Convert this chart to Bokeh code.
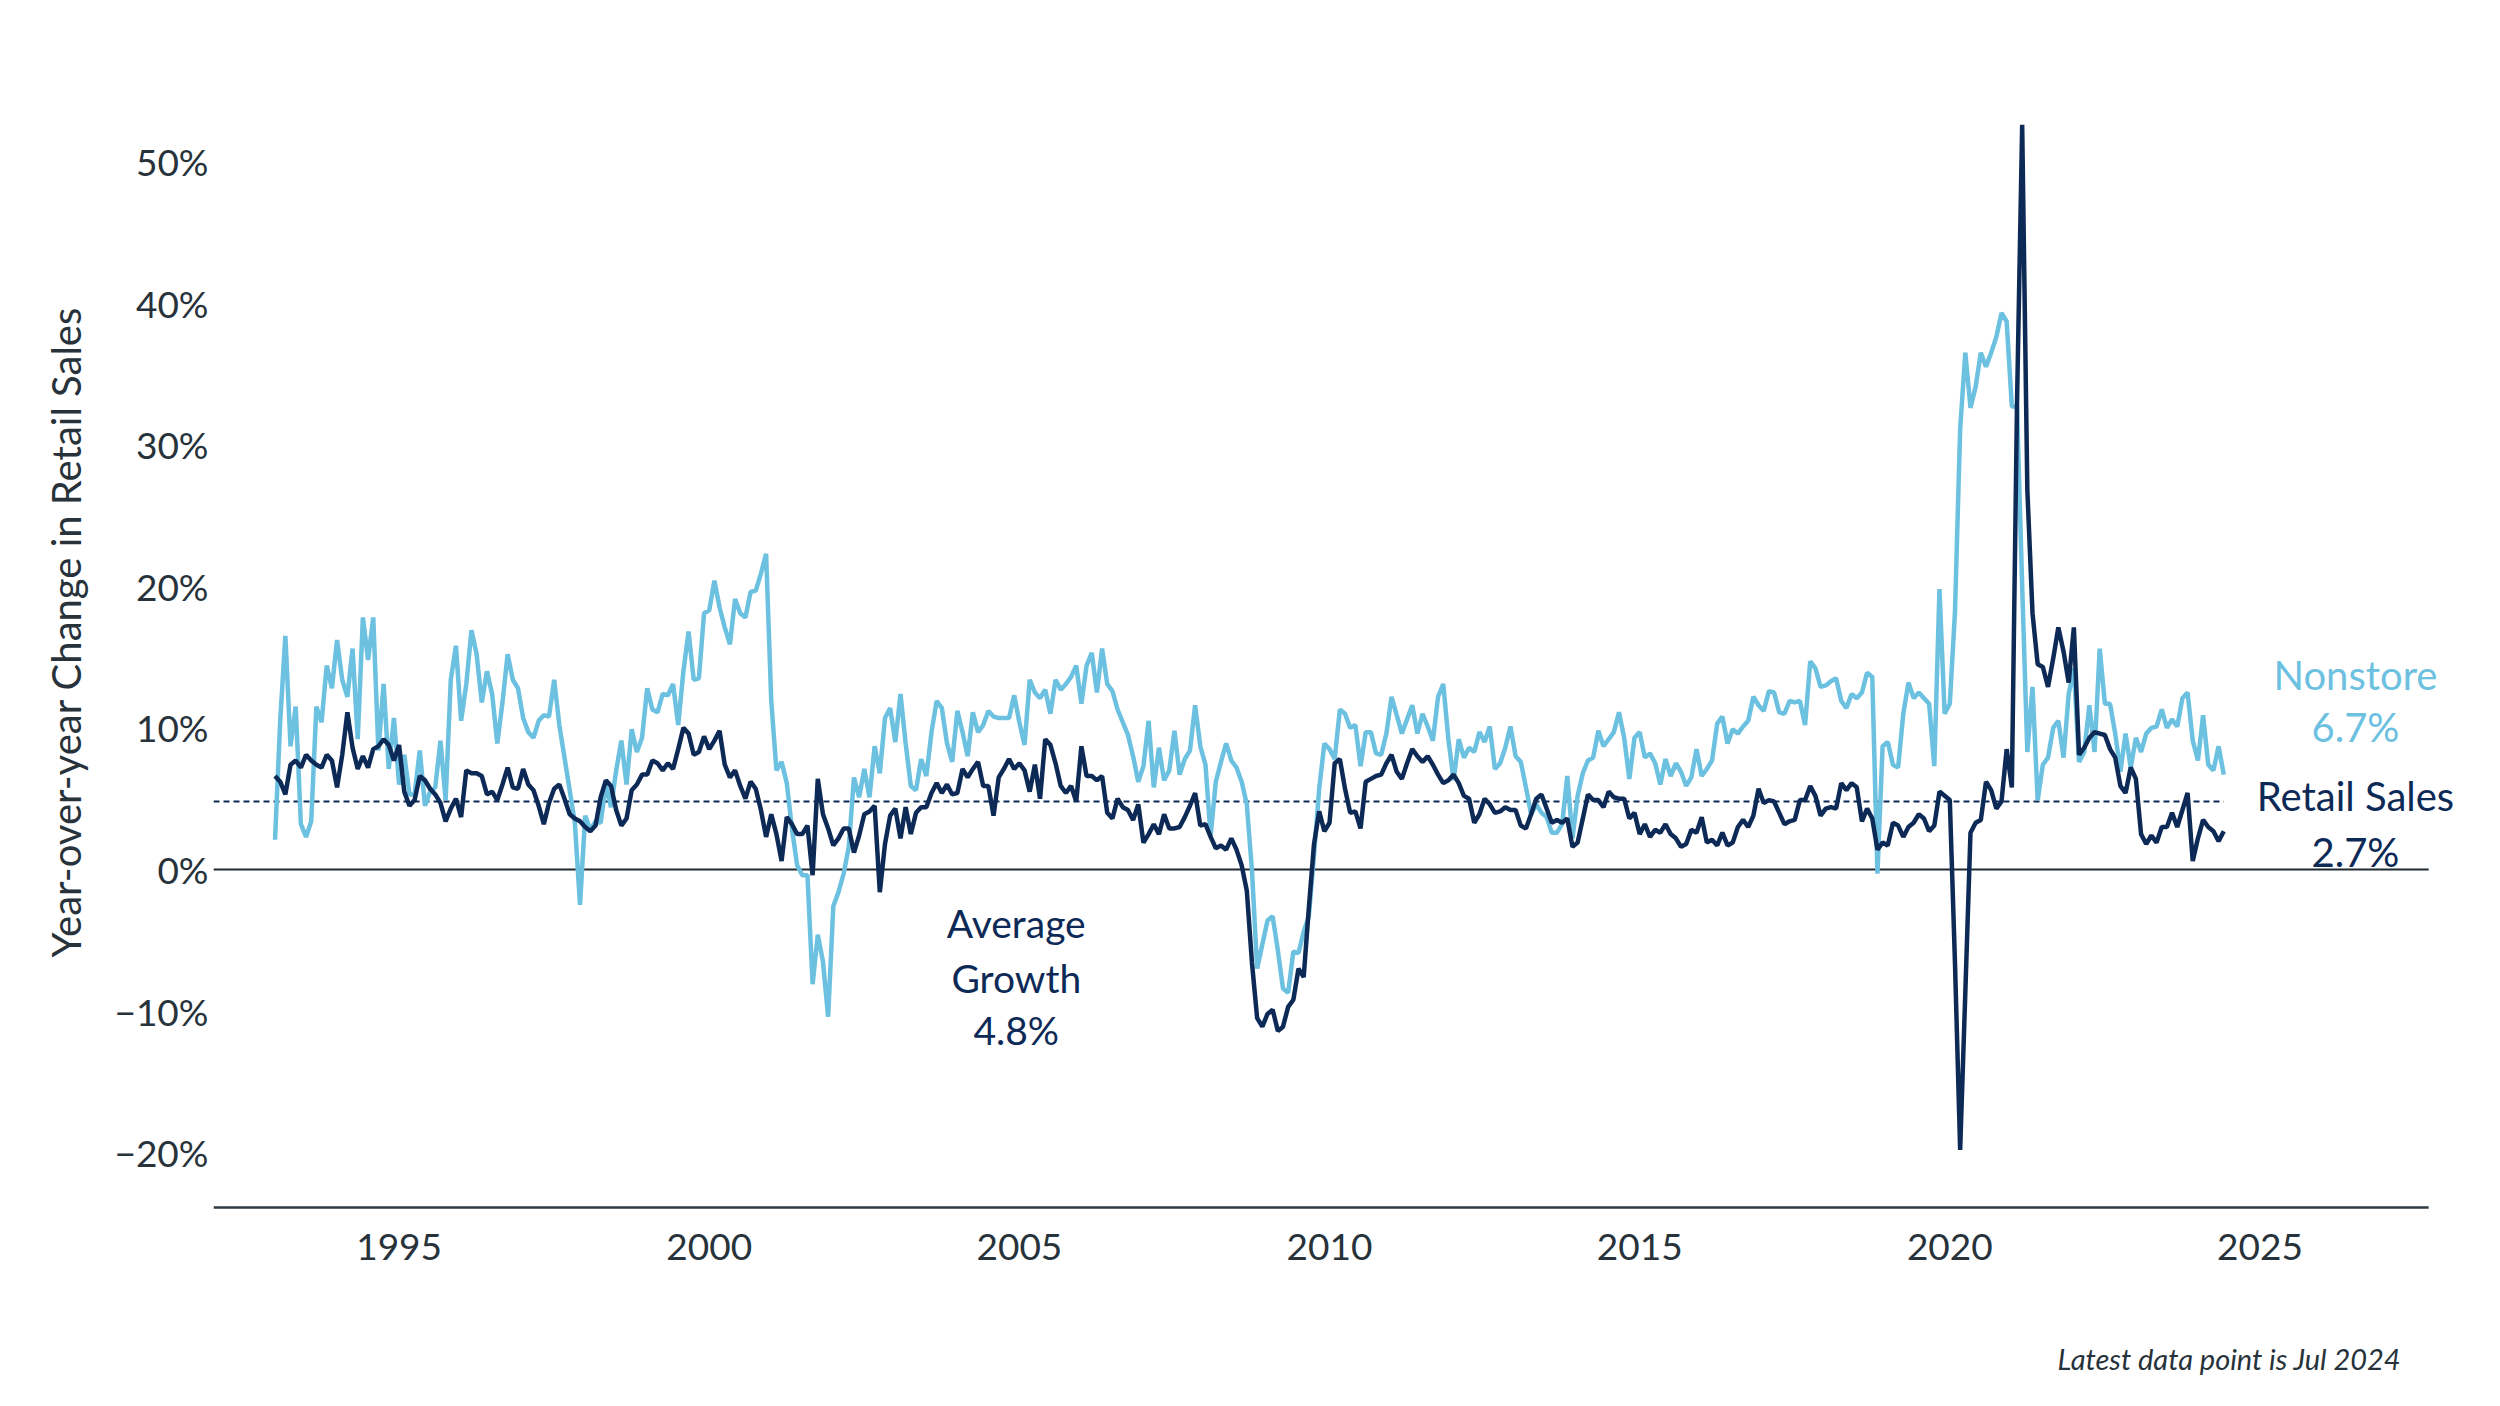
from bokeh.plotting import figure
from bokeh.models import Label, FixedTicker, ColumnDataSource, Title
from bokeh.embed import file_html
from bokeh.resources import INLINE

# ---------------- data (monthly year-over-year change, %) ----------------
start_year = 1993
nonstore = [
    2.1, 10.5, 16.5, 8.7, 11.5, 3.2, 2.3, 3.4, 11.5, 10.4, 14.4, 12.8,
    16.2, 13.4, 12.2, 15.6, 9.2, 17.8, 14.8, 17.8, 8.4, 13.1, 7.1, 10.7,
    6.0, 8.1, 5.3, 5.3, 8.4, 4.5, 5.5, 5.8, 9.1, 4.9, 13.4, 15.8,
    10.5, 13.1, 16.9, 15.2, 11.8, 14.0, 12.4, 8.9, 11.8, 15.2, 13.4, 12.8,
    10.7, 9.7, 9.3, 10.5, 10.9, 10.8, 13.4, 10.2, 7.9, 5.6, 3.3, -2.5,
    3.8, 2.8, 3.4, 3.3, 6.0, 4.4, 7.0, 9.1, 6.0, 9.9, 8.3, 9.3,
    12.8, 11.3, 11.1, 12.4, 12.3, 13.1, 10.2, 14.0, 16.8, 13.4, 13.5, 18.1,
    18.3, 20.4, 18.5, 17.1, 15.9, 19.1, 18.1, 17.8, 19.6, 19.7, 20.9, 22.3,
    11.9, 7.0, 7.6, 6.1, 2.9, 0.3, -0.4, -0.4, -8.1, -4.6, -6.5, -10.4,
    -2.6, -1.6, -0.3, 1.6, 6.5, 5.1, 7.1, 5.1, 8.7, 6.8, 10.7, 11.4,
    9.0, 12.4, 8.9, 5.9, 5.6, 7.8, 6.6, 9.7, 11.9, 11.4, 8.9, 7.6,
    11.2, 9.7, 8.0, 11.1, 9.7, 10.2, 11.2, 10.8, 10.7, 10.7, 10.7, 12.3,
    10.4, 8.8, 13.4, 12.5, 12.1, 12.7, 11.0, 13.4, 12.7, 13.1, 13.6, 14.4,
    11.7, 14.4, 15.3, 12.5, 15.6, 13.1, 12.6, 11.3, 10.4, 9.5, 8.0, 6.2,
    7.3, 10.5, 5.8, 8.6, 6.3, 7.0, 9.8, 6.7, 7.8, 8.4, 11.6, 8.7,
    7.4, 2.4, 6.2, 7.6, 8.9, 7.7, 7.2, 6.2, 4.6, -0.1, -7.0, -5.3,
    -3.6, -3.3, -5.7, -8.4, -8.7, -5.8, -5.9, -4.4, -3.3, 1.0, 5.7, 8.9,
    8.5, 7.8, 11.3, 11.0, 10.0, 10.2, 7.3, 9.7, 9.7, 8.2, 8.1, 9.6,
    12.2, 10.9, 9.6, 10.6, 11.6, 9.6, 11.0, 10.1, 9.1, 12.2, 13.1, 9.2,
    6.3, 9.2, 7.9, 8.6, 8.3, 9.7, 9.0, 10.1, 7.1, 7.5, 8.6, 10.1,
    8.0, 7.6, 5.8, 3.9, 4.6, 4.0, 3.7, 2.6, 2.6, 3.2, 6.6, 2.2,
    5.2, 6.8, 7.7, 7.9, 9.8, 8.7, 9.2, 9.7, 11.1, 9.3, 6.4, 9.3,
    9.7, 7.9, 8.2, 7.5, 6.0, 7.8, 6.6, 7.5, 6.9, 5.9, 6.5, 8.5,
    6.6, 7.1, 7.7, 10.3, 10.8, 8.9, 9.9, 9.6, 10.1, 10.5, 12.2, 11.6,
    11.2, 12.6, 12.5, 11.1, 11.0, 11.9, 11.8, 11.9, 10.2, 14.7, 14.2, 12.9,
    13.0, 13.3, 13.5, 11.9, 11.4, 12.4, 12.1, 12.5, 13.9, 13.6, -0.3, 8.7,
    9.0, 7.4, 7.2, 11.0, 13.2, 12.1, 12.5, 12.1, 11.7, 7.3, 19.8, 11.0,
    11.7, 18.2, 31.1, 36.5, 32.6, 34.1, 36.5, 35.5, 36.5, 37.6, 39.3, 38.7,
    32.7, 32.7, 20.0, 8.3, 12.9, 4.9, 7.4, 7.9, 10.0, 10.5, 7.9, 12.4,
    14.2, 7.6, 8.3, 11.6, 8.3, 15.6, 11.7, 11.7, 9.6, 6.9, 9.6, 7.2,
    9.3, 8.3, 9.6, 10.0, 10.1, 11.3, 10.0, 10.6, 10.1, 12.1, 12.5, 9.1,
    7.7, 10.9, 7.4, 7.0, 8.7, 6.7,
]
retail = [
    6.6, 6.2, 5.3, 7.4, 7.7, 7.2, 8.1, 7.7, 7.4, 7.2, 8.1, 7.7,
    5.8, 8.1, 11.1, 8.6, 7.1, 8.0, 7.2, 8.5, 8.7, 9.2, 8.8, 7.7,
    8.8, 5.5, 4.5, 4.9, 6.6, 6.3, 5.7, 5.3, 4.7, 3.4, 4.3, 5.0,
    3.7, 7.0, 6.8, 6.8, 6.6, 5.3, 5.5, 4.9, 6.0, 7.2, 5.8, 5.7,
    7.1, 6.0, 5.6, 4.5, 3.2, 4.7, 5.7, 6.0, 5.0, 3.9, 3.6, 3.4,
    3.0, 2.7, 3.1, 5.1, 6.3, 5.9, 4.2, 3.1, 3.6, 5.6, 6.0, 6.7,
    6.7, 7.7, 7.5, 7.0, 7.5, 7.1, 8.5, 10.0, 9.6, 8.1, 8.3, 9.4,
    8.5, 9.1, 9.8, 7.4, 6.5, 7.0, 5.9, 5.0, 6.2, 5.7, 4.2, 2.3,
    3.9, 2.5, 0.6, 3.7, 3.2, 2.5, 2.5, 3.1, -0.4, 6.4, 3.9, 2.9,
    1.7, 2.2, 2.9, 2.9, 1.2, 2.4, 3.9, 4.1, 4.5, -1.6, 1.8, 3.8,
    4.3, 2.2, 4.4, 2.5, 4.0, 4.4, 4.4, 5.4, 6.1, 5.4, 6.0, 5.3,
    5.4, 7.1, 6.5, 7.1, 7.6, 5.9, 5.9, 3.8, 6.5, 7.1, 7.8, 7.1,
    7.5, 7.0, 5.5, 7.4, 5.0, 9.2, 8.8, 7.5, 5.9, 5.4, 5.9, 4.8,
    8.7, 6.6, 6.6, 6.3, 6.6, 4.0, 3.6, 5.0, 4.4, 4.2, 3.5, 4.6,
    1.9, 2.5, 3.2, 2.5, 3.9, 2.9, 2.9, 3.0, 3.7, 4.5, 5.4, 3.1,
    3.2, 2.3, 1.5, 1.7, 1.4, 2.2, 1.4, 0.3, -1.5, -6.6, -10.5, -11.1,
    -10.2, -9.9, -11.4, -11.1, -9.7, -9.2, -7.0, -7.6, -2.7, 1.8, 4.1, 2.7,
    3.3, 7.5, 7.8, 5.7, 4.0, 4.1, 2.9, 6.2, 6.4, 6.6, 6.7, 7.5,
    8.1, 6.9, 6.4, 7.5, 8.5, 8.0, 7.6, 8.0, 7.4, 6.7, 6.1, 6.3,
    6.7, 6.1, 5.2, 5.0, 3.3, 3.9, 5.0, 4.6, 4.0, 4.1, 4.4, 4.2,
    4.2, 3.1, 2.9, 3.9, 5.0, 5.3, 4.3, 3.3, 3.5, 3.3, 3.6, 1.6,
    1.9, 3.6, 5.3, 4.9, 4.9, 4.4, 5.5, 5.1, 5.0, 5.0, 3.6, 4.0,
    2.5, 3.2, 2.3, 2.8, 2.6, 3.2, 2.5, 2.2, 1.6, 1.8, 2.8, 2.6,
    3.7, 1.9, 2.1, 1.7, 2.6, 1.7, 1.9, 3.0, 3.5, 3.0, 3.8, 5.7,
    4.7, 4.9, 4.8, 4.0, 3.2, 3.4, 3.5, 4.9, 4.9, 5.9, 5.2, 3.8,
    4.3, 4.4, 4.3, 6.1, 5.6, 6.1, 5.8, 3.4, 4.3, 3.6, 1.4, 1.9,
    1.7, 3.3, 3.1, 2.3, 3.0, 3.3, 3.9, 3.6, 2.7, 3.1, 5.5, 5.2,
    4.9, -6.6, -19.8, -8.7, 2.6, 3.3, 3.5, 6.2, 5.6, 4.3, 4.8, 8.5,
    5.8, 32.9, 52.6, 26.8, 18.1, 14.5, 14.3, 12.9, 14.9, 17.1, 15.4, 13.2,
    17.1, 8.1, 8.6, 9.3, 9.7, 9.6, 9.5, 8.5, 7.9, 5.9, 5.4, 7.2,
    6.4, 2.5, 1.8, 2.4, 1.9, 3.0, 3.0, 4.0, 3.0, 4.2, 5.4, 0.6,
    2.2, 3.5, 3.0, 2.7, 2.0, 2.7,
]
average_growth = 4.8
nonstore_latest = "6.7%"
retail_latest = "2.7%"
x_ticks = [1995, 2000, 2005, 2010, 2015, 2020, 2025]
y_ticks = [-20, -10, 0, 10, 20, 30, 40, 50]
y_tick_labels = ["\u221220%", "\u221210%", "0%", "10%", "20%", "30%", "40%", "50%"]
axis_title = "Year-over-year Change in Retail Sales"
footnote = "Latest data point is Jul 2024"

# ---------------- styling / layout ----------------
FONT = "Lato"
NAVY = "#0d2a57"
LIGHT = "#6cc0e0"
TEXT = "#27323a"

X0, X1 = 1992.008, 2028.749      # frame spans the canvas to the right edge
Y0, Y1 = -37.36, 61.37           # frame spans the whole canvas height
AXIS_END = 2027.72               # where the baseline / zero line stop
AXIS_Y = -23.87                  # position of the bottom axis line
XLAB_Y = -26.67                  # centre of the year labels

years = [start_year + i / 12 for i in range(len(retail))]
src = ColumnDataSource(dict(x=years, nonstore=nonstore, retail=retail))

p = figure(width=2492, height=1398, output_backend="svg", toolbar_location=None,
           x_range=(X0, X1), y_range=(Y0, Y1), x_axis_location=None,
           min_border_left=213, min_border_right=0, min_border_top=0, min_border_bottom=0)
p.outline_line_color = None
p.xgrid.visible = False
p.ygrid.visible = False
p.background_fill_color = "white"
p.border_fill_color = "white"

# y axis
p.yaxis.ticker = FixedTicker(ticks=y_ticks)
p.yaxis.major_label_overrides = {float(t): s for t, s in zip(y_ticks, y_tick_labels)}
p.yaxis.axis_line_color = None
p.yaxis.major_tick_line_color = None
p.yaxis.minor_tick_line_color = None
p.yaxis.major_tick_out = 0
p.yaxis.major_label_standoff = 5
p.yaxis.major_label_text_font = FONT
p.yaxis.major_label_text_font_size = "37px"
p.yaxis.major_label_text_color = TEXT

# vertical axis title, placed beside the tick labels
p.add_layout(Title(text=axis_title, align="left", offset=441, standoff=44,
                   text_font=FONT, text_font_size="40px", text_font_style="normal",
                   text_color=TEXT), "left")

# bottom axis line, zero line, average line
p.segment(x0=[X0], x1=[AXIS_END], y0=[AXIS_Y], y1=[AXIS_Y], line_color="#2e3a42", line_width=2.5)
p.segment(x0=[X0], x1=[AXIS_END], y0=[0], y1=[0], line_color="#1e2a33", line_width=2)
p.segment(x0=[X0], x1=[years[-1]], y0=[average_growth], y1=[average_growth],
          line_color=NAVY, line_width=2, line_dash="6 4")

# year labels
for t in x_ticks:
    p.add_layout(Label(x=t, y=XLAB_Y, text=str(t), text_align="center", text_baseline="middle",
                       text_font=FONT, text_font_size="37px", text_color=TEXT))

# series
p.line("x", "nonstore", source=src, line_color=LIGHT, line_width=4.5)
p.line("x", "retail", source=src, line_color=NAVY, line_width=4.5)

# annotations
lab_x = 2026.54
for txt, yy, col in [("Nonstore", 13.77, LIGHT), (nonstore_latest, 10.03, LIGHT),
                     ("Retail Sales", 5.16, NAVY), (retail_latest, 1.27, NAVY)]:
    p.add_layout(Label(x=lab_x, y=yy, text=txt, text_align="center", text_baseline="middle",
                       text_font=FONT, text_font_size="40px", text_color=col))

avg_x = 2004.95
for txt, yy in [("Average", -3.81), ("Growth", -7.63), (f"{average_growth}%", -11.37)]:
    p.add_layout(Label(x=avg_x, y=yy, text=txt, text_align="center", text_baseline="middle",
                       text_font=FONT, text_font_size="39px", text_color=NAVY))

p.add_layout(Label(x=2027.28, y=-34.5, text=footnote, text_align="right", text_baseline="middle",
                   text_font=FONT, text_font_size="29px", text_font_style="italic",
                   text_color=TEXT))

open("out.html", "w").write(file_html(p, INLINE))
